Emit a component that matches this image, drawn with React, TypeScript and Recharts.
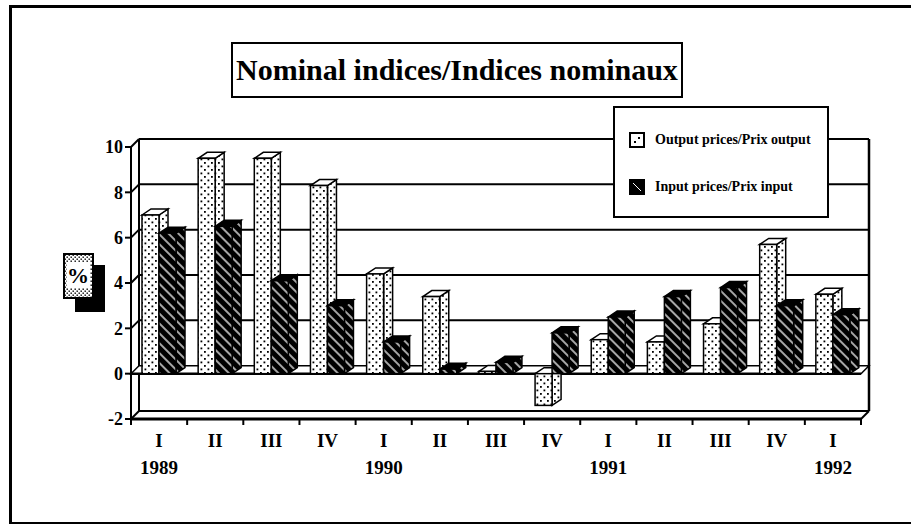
import { BarChart, Bar, XAxis, YAxis, CartesianGrid, Legend } from "recharts";

const quarters = ["I", "II", "III", "IV", "I", "II", "III", "IV", "I", "II", "III", "IV", "I"];
const years = ["1989", "", "", "", "1990", "", "", "", "1991", "", "", "", "1992"];
const outputPrices = [7.0, 9.5, 9.5, 8.3, 4.4, 3.4, 0.1, -1.4, 1.5, 1.4, 2.2, 5.7, 3.5];
const inputPrices = [6.2, 6.5, 4.1, 3.0, 1.4, 0.2, 0.5, 1.8, 2.5, 3.4, 3.8, 3.0, 2.6];
const seriesNames = ["Output prices/Prix output", "Input prices/Prix input"];
const yTicks = [-2, 0, 2, 4, 6, 8, 10];

const rows = quarters.map((q, i) => ({
  period: `${i}`,
  output: outputPrices[i],
  input: inputPrices[i],
}));

const FONT = '"Liberation Serif", "Times New Roman", serif';
const W = 911;
const H = 525;
const TOP = 147;
const BOTTOM = 419;
const LEFT = 131;
const RIGHT = 861;
const Y_MIN = -2;
const Y_MAX = 10;
// depth of the walls and of the bars
const DX = 8;
const DY = -8;
const BDX = 9;
const BDY = -6;
const BAND = (RIGHT - LEFT) / quarters.length;

const gridLine = (p: any) => {
  const { x1, x2, y1 } = p;
  const v = Math.round(Y_MAX - ((y1 - TOP) / (BOTTOM - TOP)) * (Y_MAX - Y_MIN));
  const k = `g${v}`;
  if (v === Y_MIN) {
    return (
      <g key={k}>
        <line x1={x1 + DX} y1={TOP + DY} x2={x1 + DX} y2={y1 + DY} stroke="#000" strokeWidth={2} />
        <line x1={x2 + DX} y1={TOP + DY} x2={x2 + DX} y2={y1 + DY} stroke="#000" strokeWidth={2.5} />
        <line x1={x1 + DX} y1={y1 + DY} x2={x2 + DX} y2={y1 + DY} stroke="#000" strokeWidth={2} />
        <line x1={x2} y1={y1} x2={x2 + DX} y2={y1 + DY} stroke="#000" strokeWidth={2} />
        <line x1={x1} y1={y1} x2={x1 + DX} y2={y1 + DY} stroke="#000" strokeWidth={2} />
        <line x1={x1} y1={y1} x2={x2} y2={y1} stroke="#000" strokeWidth={3} />
      </g>
    );
  }
  if (v === 0) {
    return (
      <g key={k}>
        <polygon
          points={`${x1},${y1} ${x2},${y1} ${x2 + DX},${y1 + DY} ${x1 + DX},${y1 + DY}`}
          fill="#fff"
          stroke="#000"
          strokeWidth={1.5}
        />
        <line x1={x1} y1={y1} x2={x2} y2={y1} stroke="#000" strokeWidth={2.5} />
      </g>
    );
  }
  return (
    <g key={k}>
      <line x1={x1} y1={y1} x2={x1 + DX} y2={y1 + DY} stroke="#000" strokeWidth={2} />
      <line x1={x1 + DX} y1={y1 + DY} x2={x2 + DX} y2={y1 + DY} stroke="#000" strokeWidth={2} />
    </g>
  );
};

const bar3d = (kind: "out" | "in") => (p: any) => {
  const { x, y, width, height } = p;
  const top = Math.min(y, y + height);
  const bot = Math.max(y, y + height);
  const w = width;
  const front = kind === "out" ? "url(#dots)" : "url(#hatch)";
  const cap = kind === "out" ? "#fff" : "#000";
  const side = kind === "out" ? "url(#dots)" : "url(#hatch)";
  return (
    <g>
      <polygon
        points={`${x + w},${top} ${x + w + BDX},${top + BDY} ${x + w + BDX},${bot + BDY} ${x + w},${bot}`}
        fill={side}
        stroke="#000"
        strokeWidth={1.5}
      />
      <polygon
        points={`${x},${top} ${x + BDX},${top + BDY} ${x + w + BDX},${top + BDY} ${x + w},${top}`}
        fill={cap}
        stroke="#000"
        strokeWidth={1.5}
      />
      <rect x={x} y={top} width={w} height={bot - top} fill={front} stroke="#000" strokeWidth={1.5} />
    </g>
  );
};

const QuarterTick = (p: any) => {
  const { x, payload } = p;
  const i = Number(payload.value);
  const base = BOTTOM;
  return (
    <g>
      <line x1={x - BAND / 2} y1={base} x2={x - BAND / 2} y2={base + 6} stroke="#000" strokeWidth={2} />
      {i === quarters.length - 1 && (
        <line x1={x + BAND / 2} y1={base} x2={x + BAND / 2} y2={base + 6} stroke="#000" strokeWidth={2} />
      )}
      <text x={x} y={base + 28} textAnchor="middle" fontFamily={FONT} fontWeight="bold" fontSize={19} fill="#000">
        {quarters[i]}
      </text>
      {years[i] && (
        <text x={x} y={base + 55} textAnchor="middle" fontFamily={FONT} fontWeight="bold" fontSize={19} fill="#000">
          {years[i]}
        </text>
      )}
    </g>
  );
};

const LegendBox = () => (
  <div
    style={{
      width: 216,
      height: 112,
      border: "2px solid #000",
      background: "#fff",
      boxSizing: "border-box",
      fontFamily: FONT,
      fontWeight: "bold",
      fontSize: 14,
      position: "relative",
    }}
  >
    {seriesNames.map((name, i) => (
      <div
        key={name}
        style={{ position: "absolute", left: 14, top: 24 + i * 47, display: "flex", alignItems: "center", whiteSpace: "nowrap" }}
      >
        <svg width={16} height={16} style={{ marginRight: 10 }}>
          {i === 0 ? (
            <g>
              <rect x={1} y={1} width={14} height={14} fill="#fff" stroke="#000" strokeWidth={2} />
              <rect x={5} y={9} width={2} height={2} fill="#000" />
              <rect x={9} y={5} width={2} height={2} fill="#000" />
            </g>
          ) : (
            <g>
              <rect x={0} y={0} width={16} height={16} fill="#000" />
              <line x1={4} y1={4} x2={12} y2={12} stroke="#fff" strokeWidth={1} />
            </g>
          )}
        </svg>
        {name}
      </div>
    ))}
  </div>
);

export default function App() {
  return (
    <div style={{ position: "absolute", left: 0, top: 0, width: W, height: H, background: "#fff", fontFamily: FONT }}>
      <div style={{ position: "absolute", left: 9, top: 5, width: W - 9, height: 3, background: "#000" }} />
      <div style={{ position: "absolute", left: 9, top: 5, width: 3, height: 519, background: "#000" }} />
      <div style={{ position: "absolute", left: 9, top: 522, width: W - 9, height: 2, background: "#000" }} />

      <div
        style={{
          position: "absolute",
          left: 231,
          top: 42,
          width: 452,
          height: 56,
          border: "2px solid #000",
          boxSizing: "border-box",
          display: "flex",
          alignItems: "center",
          justifyContent: "center",
          fontSize: 30,
          fontWeight: "bold",
          whiteSpace: "nowrap",
        }}
      >
        Nominal indices/Indices nominaux
      </div>

      <svg style={{ position: "absolute", left: 60, top: 250 }} width={50} height={65}>
        <rect x={15} y={15} width={30} height={47} fill="#000" />
        <rect x={4} y={4} width={29} height={44} fill="url(#dotsFine)" stroke="#000" strokeWidth={2} />
        <rect x={7} y={12} width={23} height={26} fill="#fff" />
        <text x={18} y={33} textAnchor="middle" fontFamily={FONT} fontWeight="bold" fontSize={22} fill="#000">
          %
        </text>
      </svg>

      <div style={{ position: "absolute", left: 0, top: 0 }}>
        <BarChart
          width={W}
          height={H}
          data={rows}
          margin={{ top: TOP, right: W - RIGHT, bottom: H - BOTTOM - 60, left: LEFT - 40 }}
          barCategoryGap={11}
          barGap={0}
        >
          <defs>
            <pattern id="dots" width="7" height="7" patternUnits="userSpaceOnUse">
              <rect width="7" height="7" fill="#fff" />
              <rect x="1" y="1" width="1.8" height="1.8" fill="#000" />
              <rect x="4.5" y="4.5" width="1.8" height="1.8" fill="#000" />
            </pattern>
            <pattern id="dotsFine" width="4" height="4" patternUnits="userSpaceOnUse">
              <rect width="4" height="4" fill="#fff" />
              <rect x="0.5" y="0.5" width="1.4" height="1.4" fill="#000" />
              <rect x="2.5" y="2.5" width="1.4" height="1.4" fill="#000" />
            </pattern>
            <pattern id="hatch" width="7" height="7" patternUnits="userSpaceOnUse" patternTransform="rotate(-45)">
              <rect width="7" height="7" fill="#000" />
              <line x1="3" y1="0" x2="3" y2="7" stroke="#fff" strokeWidth="1.3" />
            </pattern>
          </defs>
          <CartesianGrid vertical={false} horizontal={gridLine} />
          <XAxis dataKey="period" height={60} interval={0} axisLine={false} tickLine={false} tick={<QuarterTick />} />
          <YAxis
            width={40}
            domain={[Y_MIN, Y_MAX]}
            ticks={yTicks}
            interval={0}
            allowDataOverflow
            axisLine={{ stroke: "#000", strokeWidth: 2 }}
            tickLine={{ stroke: "#000", strokeWidth: 2 }}
            tickSize={6}
            tick={{ fill: "#000", fontSize: 18, fontWeight: "bold", fontFamily: FONT }}
          />
          <Legend
            layout="horizontal"
            verticalAlign="middle"
            align="center"
            content={<LegendBox />}
            wrapperStyle={{ position: "absolute", left: 613, top: 106, width: 216, height: 112 }}
          />
          <Bar dataKey="output" name={seriesNames[0]} isAnimationActive={false} shape={bar3d("out")} />
          <Bar dataKey="input" name={seriesNames[1]} isAnimationActive={false} shape={bar3d("in")} />
        </BarChart>
      </div>
    </div>
  );
}
